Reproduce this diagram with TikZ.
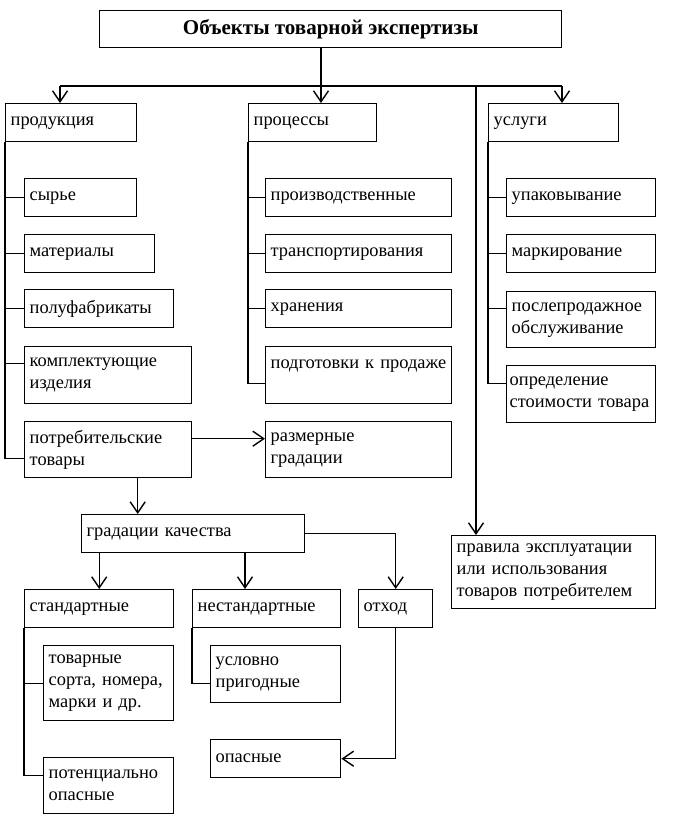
\documentclass[tikz,border=0pt]{standalone}
\usepackage{fontspec}
\setmainfont{Liberation Serif}
\usetikzlibrary{arrows.meta, positioning, calc}

\tikzset{
  obj/.style={draw, line width=1.4pt, anchor=north west, align=left, inner xsep=5pt, inner ysep=2pt, font=\fontsize{18.4}{22}\selectfont},
  link/.style={line width=1.4pt},
  arr/.style={line width=1.4pt, -{Straight Barb[length=11pt, width=15pt, line width=1.4pt]}}
}

\begin{document}
\begin{tikzpicture}[x=1pt, y=-1pt]
  \useasboundingbox (0,0) rectangle (673,821);

  % Title
  \node[obj, align=center, minimum width=462pt, minimum height=37pt, font=\fontsize{21}{24}\selectfont\bfseries] (title) at (99,10) {Объекты товарной экспертизы};

  % Three groups
  \node[obj, text width=121pt, minimum height=38pt] (prod) at (5,103) {продукция};
  \node[obj, text width=118pt, minimum height=38pt] (proc) at (248,103) {процессы};
  \node[obj, text width=120pt, minimum height=38pt] (usl) at (488,103) {услуги};

  % Products
  \node[obj, text width=102pt, minimum height=38pt] (syr) at (24,178) {сырье};
  \node[obj, text width=120pt, minimum height=38pt] (mat) at (24,234) {материалы};
  \node[obj, text width=139pt, minimum height=38pt] (pf) at (24,289) {полуфабрикаты};
  \node[obj, text width=157pt, minimum height=57pt] (kompl) at (24,346) {комплектующие\\изделия};
  \node[obj, text width=157pt, minimum height=56pt] (potr) at (24,421) {потребительские\\товары};

  % Processes
  \node[obj, text width=176pt, minimum height=38pt] (prv) at (265,178) {производственные};
  \node[obj, text width=176pt, minimum height=38pt] (trn) at (265,234) {транспортирования};
  \node[obj, text width=176pt, minimum height=38pt] (hran) at (265,289) {хранения};
  \node[obj, text width=176pt, minimum height=57pt] (podg) at (265,346) {подготовки к продаже\\\mbox{}};
  \node[obj, text width=176pt, minimum height=56pt] (razm) at (265,421) {размерные\\градации};

  % Services
  \node[obj, text width=139pt, minimum height=38pt] (upak) at (506,178) {упаковывание};
  \node[obj, text width=139pt, minimum height=38pt] (mark) at (506,234) {маркирование};
  \node[obj, text width=139pt, minimum height=56pt] (posl) at (506,291) {послепродажное\\обслуживание};
  \node[obj, inner xsep=3pt, text width=143pt, minimum height=57pt] (opr) at (506,365) {определение\\стоимости товара};
  \node[obj, text width=194pt, minimum height=73pt] (prav) at (451,535) {правила эксплуатации\\или использования\\товаров потребителем};

  % Quality gradations
  \node[obj, text width=213pt, minimum height=38pt] (grad) at (81,514) {градации качества};
  \node[obj, text width=139pt, minimum height=38pt] (std) at (24,589) {стандартные};
  \node[obj, text width=138pt, minimum height=38pt] (nstd) at (192,589) {нестандартные};
  \node[obj, text width=64pt, minimum height=38pt] (otx) at (358,589) {отход};
  \node[obj, text width=120pt, minimum height=75pt] (tov) at (43,645) {товарные\\сорта, номера,\\марки и др.};
  \node[obj, text width=120pt, minimum height=56pt] (pot) at (43,757) {потенциально\\опасные};
  \node[obj, text width=120pt, minimum height=57pt] (uslo) at (210,645) {условно\\пригодные};
  \node[obj, text width=120pt, minimum height=38pt] (opas) at (210,739) {опасные};

  % Bus under the title
  \coordinate (bA) at (60,86);
  \coordinate (bB) at (321,86);
  \coordinate (bC) at (562,86);
  \coordinate (bD) at (476,86);
  \draw[link] (title.south -| bB) -- (bB);
  \draw[link] (bA) -- (bC);
  \draw[arr] (bA) -- (bA |- prod.north);
  \draw[arr] (bB) -- (bB |- proc.north);
  \draw[arr] (bC) -- (bC |- usl.north);
  \draw[arr] (bD) -- (bD |- prav.north);

  % Spines
  \foreach \b in {syr, mat, pf}
    \draw[link] (prod.south west) |- (\b.west);
  \draw[link] (prod.south west) |- ([yshift=11.5pt]kompl.west);
  \draw[link] (prod.south west) |- ([yshift=-9pt]potr.west);
  \foreach \b in {prv, trn, hran}
    \draw[link] (proc.south west) |- (\b.west);
  \draw[link] (proc.south west) |- ([yshift=-8.5pt]podg.west);
  \foreach \b in {upak, mark}
    \draw[link] (usl.south west) |- (\b.west);
  \draw[link] (usl.south west) |- ([yshift=11pt]posl.west);
  \draw[link] (usl.south west) |- ([yshift=10.5pt]opr.west);
  \draw[link] (std.south west) |- (tov.west);
  \draw[link] (std.south west) |- ([yshift=10pt]pot.west);
  \draw[link] (nstd.south west) |- ([yshift=-9.5pt]uslo.west);

  % Arrows between boxes
  \draw[arr] ([yshift=11pt]potr.east) -- ([yshift=11pt]razm.west);
  \draw[arr] ([xshift=29.5pt]potr.south) coordinate (pg) -- (pg |- grad.north);
  \draw[arr] (grad.south -| std.north) -- (std.north);
  \draw[arr] (grad.south -| 245,0) -- (245,0 |- nstd.north);
  \draw[arr] (grad.east) -| (otx.north);
  \draw[arr] (otx.south) |- (opas.east);
\end{tikzpicture}
\end{document}
